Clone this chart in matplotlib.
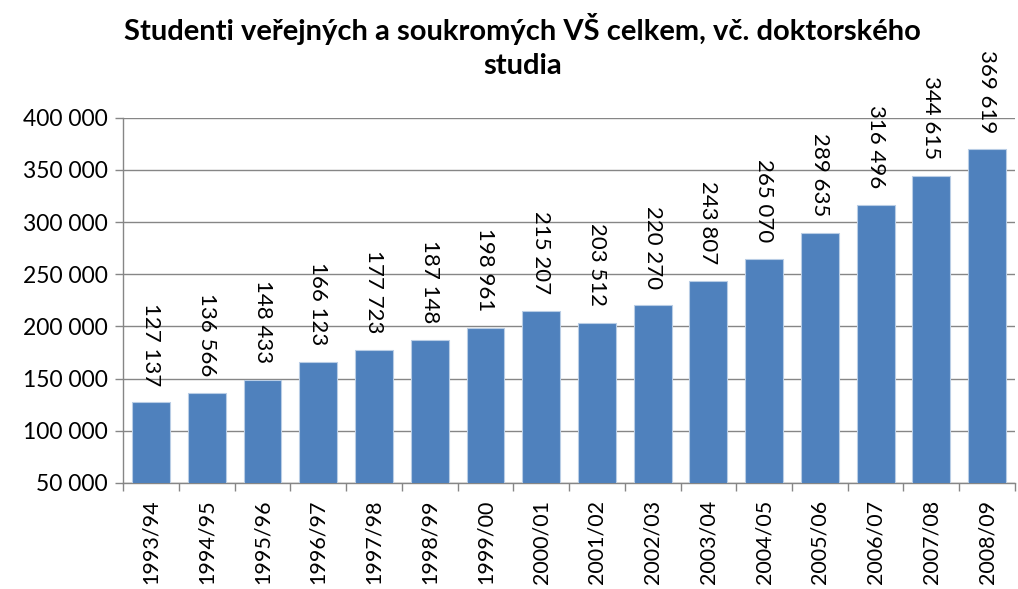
import matplotlib
matplotlib.use("Agg")
import matplotlib.pyplot as plt
import numpy as np
from matplotlib.ticker import FuncFormatter, FixedLocator

years = ["1993/94", "1994/95", "1995/96", "1996/97", "1997/98", "1998/99", "1999/00",
         "2000/01", "2001/02", "2002/03", "2003/04", "2004/05", "2005/06", "2006/07",
         "2007/08", "2008/09"]
students = [127137, 136566, 148433, 166123, 177723, 187148, 198961, 215207, 203512,
            220270, 243807, 265070, 289635, 316496, 344615, 369619]
title = "Studenti veřejných a soukromých VŠ celkem, vč. doktorského\nstudia"

plt.rcParams['font.family'] = ['Lato', 'DejaVu Sans']

fig = plt.figure(figsize=(10.18, 5.89), dpi=100)
ax = fig.add_axes([0.121, 0.180, 0.876, 0.620])

x = np.arange(len(years))
bars = ax.bar(x, students, width=0.68, color="#4F81BD", edgecolor="#B9CDE5",
              linewidth=0.8, zorder=3)

ax.set_ylim(50000, 400000)
ax.set_xlim(-0.5, len(years) - 0.5)
ax.set_yticks(np.arange(50000, 400001, 50000))
ax.yaxis.set_major_formatter(FuncFormatter(lambda v, p: f"{int(v):,}".replace(",", " ")))
ax.grid(axis="y", color="#868686", linewidth=1.0, zorder=0)

ax.set_xticks(x)
ax.set_xticklabels(years, rotation=90, fontsize=15.5)
ax.xaxis.set_minor_locator(FixedLocator(np.arange(-0.5, len(years), 1.0)))
ax.tick_params(axis="x", which="major", length=0, pad=12)
ax.tick_params(axis="x", which="minor", length=6, color="#868686", width=1)
ax.tick_params(axis="y", length=6, color="#868686", width=1, labelsize=16.5, pad=5)

for side in ["top", "right"]:
    ax.spines[side].set_visible(False)
for side in ["left", "bottom"]:
    ax.spines[side].set_color("#868686")
    ax.spines[side].set_linewidth(1.0)

for xi, v in zip(x, students):
    ax.annotate(f"{v:,}".replace(",", " "), (xi, v), xytext=(0, 12),
                textcoords="offset points", rotation=270, ha="center", va="bottom",
                fontsize=16, annotation_clip=False)

fig.text(0.513, 0.978, title, ha="center", va="top", fontsize=21, fontweight="bold",
         linespacing=1.4)

fig.savefig("out.png", dpi=100)
